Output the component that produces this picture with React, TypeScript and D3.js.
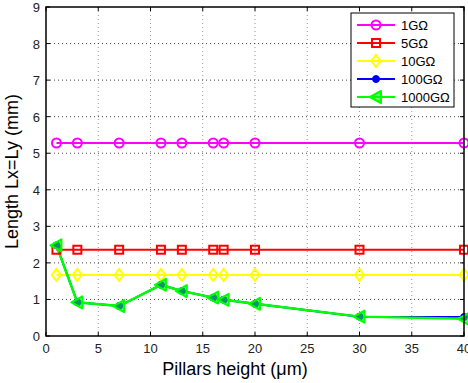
import React from "react";
import * as d3 from "d3";

const heights = [1, 3, 7, 11, 13, 16, 17, 20, 30, 40];
const s1G = [5.28, 5.28, 5.28, 5.28, 5.28, 5.28, 5.28, 5.28, 5.28, 5.28];
const s5G = [2.36, 2.36, 2.36, 2.36, 2.36, 2.36, 2.36, 2.36, 2.36, 2.36];
const s10G = [1.67, 1.67, 1.67, 1.67, 1.67, 1.67, 1.67, 1.67, 1.67, 1.67];
const s100G = [2.48, 0.92, 0.82, 1.4, 1.23, 1.05, 0.99, 0.88, 0.53, 0.52];
const s1000G = [2.48, 0.92, 0.82, 1.4, 1.23, 1.05, 0.99, 0.88, 0.53, 0.47];
const xTicks = [0, 5, 10, 15, 20, 25, 30, 35, 40];
const yTicks = [0, 1, 2, 3, 4, 5, 6, 7, 8, 9];

type Series = { name: string; values: number[]; color: string; marker: string };
const series: Series[] = [
  { name: "1GΩ", values: s1G, color: "#ff00ff", marker: "circle" },
  { name: "5GΩ", values: s5G, color: "#ff0000", marker: "square" },
  { name: "10GΩ", values: s10G, color: "#ffff00", marker: "diamond" },
  { name: "100GΩ", values: s100G, color: "#0000ff", marker: "dot" },
  { name: "1000GΩ", values: s1000G, color: "#00ff00", marker: "triangle" },
];

const margin = { top: 7, right: 4, bottom: 47, left: 46 };
const W = 468;
const H = 383;
const iw = W - margin.left - margin.right;
const ih = H - margin.top - margin.bottom;
const font = "'Liberation Sans', Arial, sans-serif";

const Marker = ({ kind, x, y, color }: { kind: string; x: number; y: number; color: string }) => {
  const sw = 2;
  if (kind === "circle")
    return <circle cx={x} cy={y} r={4.5} fill="none" stroke={color} strokeWidth={sw} />;
  if (kind === "square")
    return <rect x={x - 4} y={y - 4} width={8} height={8} fill="none" stroke={color} strokeWidth={sw} />;
  if (kind === "diamond")
    return (
      <path d={`M${x},${y - 6}L${x + 4.5},${y}L${x},${y + 6}L${x - 4.5},${y}Z`} fill="none" stroke={color} strokeWidth={sw} />
    );
  if (kind === "dot") return <circle cx={x} cy={y} r={3.5} fill={color} stroke={color} strokeWidth={1} />;
  return (
    <path d={`M${x - 6},${y}L${x + 5},${y - 6}L${x + 5},${y + 6}Z`} fill={color} fillOpacity={0.6} stroke={color} strokeWidth={sw} strokeLinejoin="round" />
  );
};

export default function App() {
  const x = d3.scaleLinear().domain([0, 40]).range([0, iw]);
  const y = d3.scaleLinear().domain([0, 9]).range([ih, 0]);
  const line = d3
    .line<number>()
    .x((_, i) => x(heights[i]))
    .y((d) => y(d));

  const legX = 351 - margin.left;
  const legY = 13 - margin.top;

  return (
    <svg width={W} height={H} style={{ position: "absolute", left: 0, top: 0, background: "#fff" }}>
      <g transform={`translate(${margin.left},${margin.top})`} fontFamily={font}>
        {xTicks.slice(1, -1).map((t) => (
          <line key={"gx" + t} x1={x(t)} x2={x(t)} y1={0} y2={ih} stroke="#999" strokeWidth={1} strokeDasharray="1,3" />
        ))}
        {yTicks.slice(1, -1).map((t) => (
          <line key={"gy" + t} x1={0} x2={iw} y1={y(t)} y2={y(t)} stroke="#444" strokeWidth={1} strokeDasharray="1,3" />
        ))}
        {series.map((s) => (
          <path key={s.name} d={line(s.values) || ""} fill="none" stroke={s.color} strokeWidth={s.marker === "triangle" ? 2.5 : 2} />
        ))}
        {series.map((s) =>
          s.values.map((v, i) => (
            <Marker key={s.name + i} kind={s.marker} x={x(heights[i])} y={y(v)} color={s.color} />
          ))
        )}
        <rect x={0} y={0} width={iw} height={ih} fill="none" stroke="#000" strokeWidth={1.5} />
        {xTicks.map((t) => (
          <g key={"tx" + t}>
            <line x1={x(t)} x2={x(t)} y1={ih} y2={ih - 4} stroke="#000" />
            <line x1={x(t)} x2={x(t)} y1={0} y2={4} stroke="#000" />
            <text x={x(t)} y={ih + 17} textAnchor="middle" fontSize={13} fill="#222">
              {t}
            </text>
          </g>
        ))}
        {yTicks.map((t) => (
          <g key={"ty" + t}>
            <line x1={0} x2={4} y1={y(t)} y2={y(t)} stroke="#000" />
            <line x1={iw} x2={iw - 4} y1={y(t)} y2={y(t)} stroke="#000" />
            <text x={-6} y={y(t) + 5} textAnchor="end" fontSize={13} fill="#222">
              {t}
            </text>
          </g>
        ))}
        <text x={iw / 2 - 20} y={ih + 39} textAnchor="middle" fontSize={18} fill="#000">
          Pillars height (μm)
        </text>
        <text
          transform={`translate(${-28},${ih / 2}) rotate(-90)`}
          textAnchor="middle"
          fontSize={18}
          fill="#000"
        >
          Length Lx=Ly (mm)
        </text>
        <g transform={`translate(${legX},${legY})`}>
          <rect x={0} y={0} width={103} height={94} fill="#fff" stroke="#000" strokeWidth={1} />
          {series.map((s, i) => {
            const ly = 12 + i * 18;
            return (
              <g key={"leg" + s.name}>
                <line x1={6} x2={44} y1={ly} y2={ly} stroke={s.color} strokeWidth={2} />
                <Marker kind={s.marker} x={25} y={ly} color={s.color} />
                <text x={50} y={ly + 4.5} fontSize={13} fill="#000">
                  {s.name}
                </text>
              </g>
            );
          })}
        </g>
      </g>
    </svg>
  );
}
